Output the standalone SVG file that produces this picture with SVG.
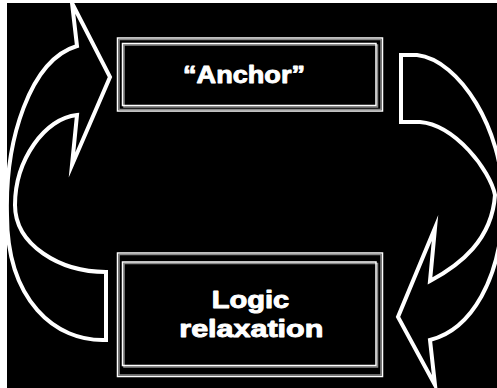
<svg xmlns="http://www.w3.org/2000/svg" width="497" height="388" viewBox="0 0 497 388">
<style>
.arrow{fill:#000;stroke:#fff;stroke-width:4;stroke-linejoin:miter;stroke-miterlimit:10}
.w{fill:none;stroke:#fff;stroke-width:1.5}
.g{fill:none;stroke:#8a8a8a;stroke-width:1.5}
.t{font-family:"Liberation Sans",Arial,sans-serif;font-weight:bold;fill:#fff;stroke:#fff;stroke-width:0.9;stroke-linejoin:round}
</style>
<rect x="0" y="0" width="497" height="388" fill="#fff"/>
<rect x="7" y="3" width="490" height="385" fill="#000"/>
<g id="connectors">
<path id="arrow-left" class="arrow" d="M106,340 C55,342 7,300 7,215 C5,140 30,60 77,46 L72,3 L110,77 L72,165 L77,115 C45,118 15,160 15,205 C15,245 60,272 106,272 Z"/>
<path id="arrow-right" class="arrow" d="M401,55 L417,55 C460,60 503,130 503,200 C503,280 470,330 430,340 L435,385 L398,317 L435,228 L430,281 C460,265 492,240 495,195 C490,170 455,125 420,122 L401,122 Z"/>
</g>
<g id="node-anchor">
<rect class="w" x="117.5" y="38" width="265" height="73"/>
<rect class="g" x="119" y="39.5" width="262" height="70"/>
<rect class="g" x="124" y="45" width="253.5" height="62"/>
<rect class="w" x="122.5" y="43.5" width="253.5" height="62"/>
<text class="t" x="183" y="83" font-size="24" textLength="122" lengthAdjust="spacingAndGlyphs">“Anchor”</text>
</g>
<g id="node-logic">
<rect class="w" x="117.5" y="253" width="265" height="123.5"/>
<rect class="g" x="119" y="254.5" width="262" height="120.5"/>
<rect class="g" x="124" y="263.5" width="253.5" height="103.5"/>
<rect class="w" x="122.5" y="262" width="253.5" height="103.5"/>
<text class="t" x="211.7" y="308" font-size="23" textLength="77.6" lengthAdjust="spacingAndGlyphs">Logic</text>
<text class="t" x="179.3" y="336.5" font-size="23" textLength="144" lengthAdjust="spacingAndGlyphs">relaxation</text>
</g>
</svg>
